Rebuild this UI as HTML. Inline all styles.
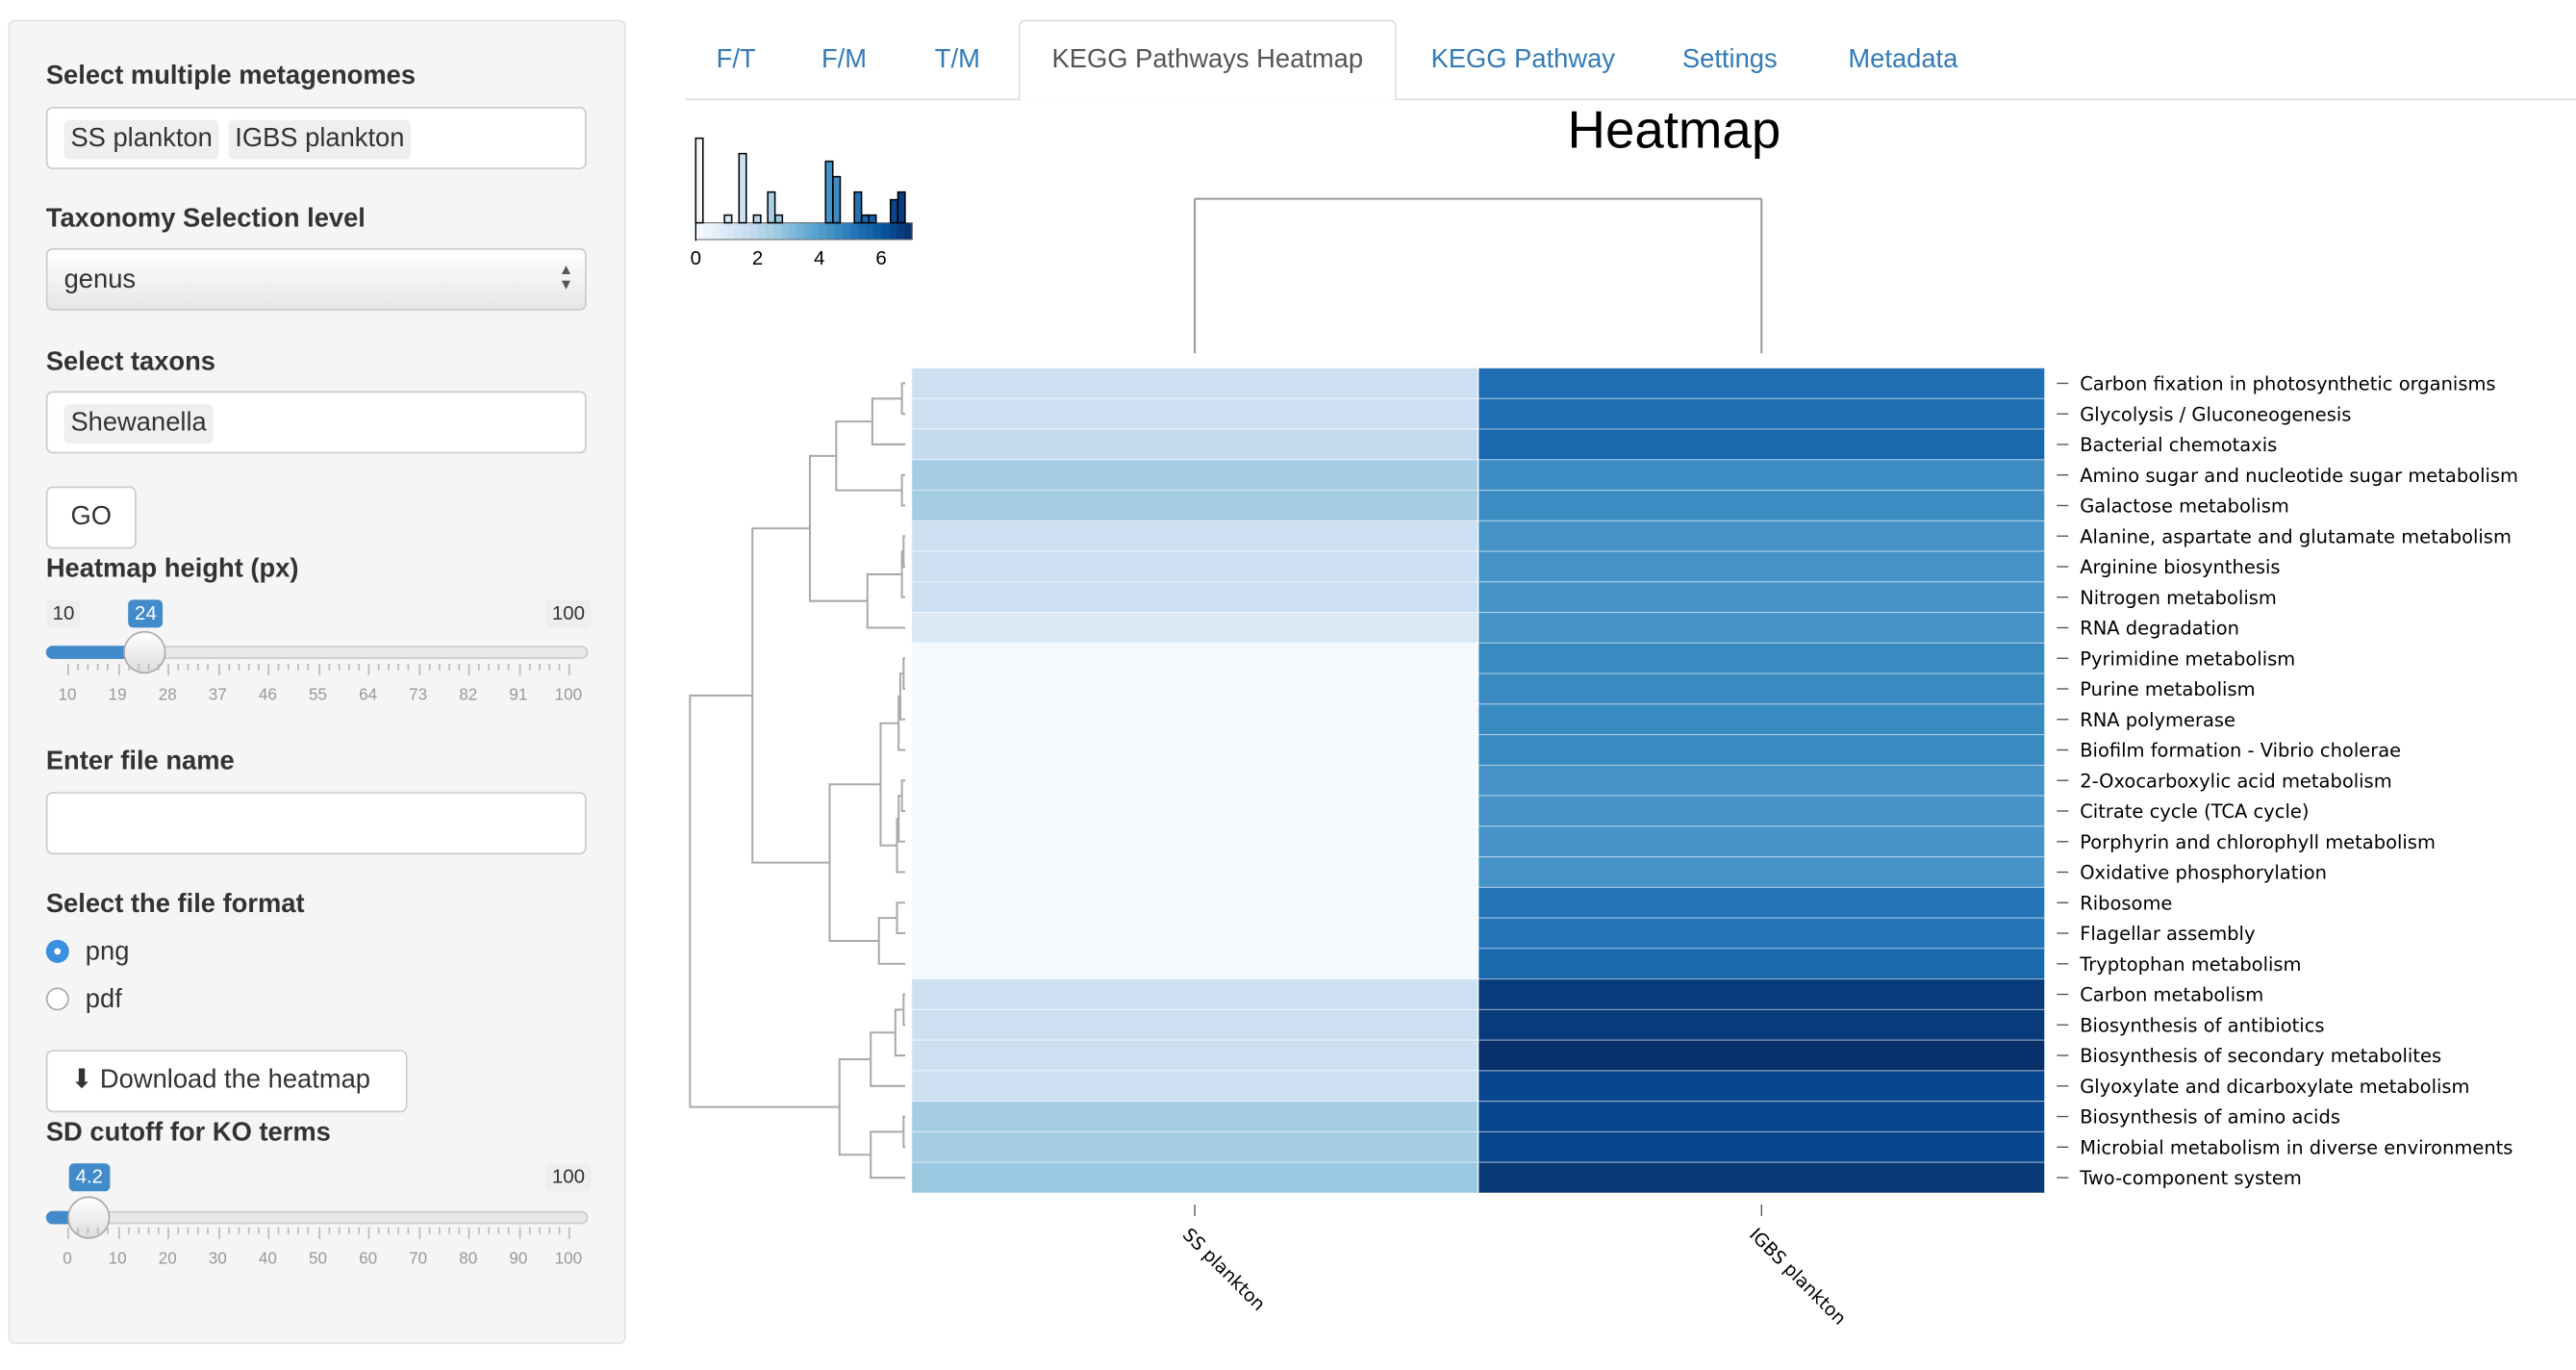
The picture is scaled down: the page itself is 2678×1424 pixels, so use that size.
<!DOCTYPE html>
<html><head><meta charset="utf-8">
<style>
html,body{margin:0;padding:0;width:2678px;height:1424px;overflow:hidden;background:#fff;}
#root{position:absolute;left:0;top:0;width:1568px;height:834px;transform:scale(1.70791);transform-origin:0 0;font-family:"Liberation Sans",sans-serif;color:#333;}
.abs{position:absolute;}
.lbl{position:absolute;left:28px;font-weight:bold;font-size:16px;color:#333;}
.inp{position:absolute;left:28px;width:329px;height:38px;border:1px solid #ccc;border-radius:4px;background:#fff;box-sizing:border-box;}
.chip{position:absolute;top:7px;height:24px;line-height:24px;background:#efefef;border-radius:3px;padding:0 4px;font-size:16px;color:#333;}
.tab{position:absolute;top:28px;font-size:16px;color:#337ab7;}
.sl-box{position:absolute;height:17px;line-height:17px;font-size:12px;padding:0 4px;border-radius:3px;background:#eee;color:#333;}
.tk{position:absolute;font-size:10px;color:#999;transform:translateX(-50%);}
</style></head><body>
<div id="root">
  <div class="abs" style="left:5px;top:12px;width:376px;height:806px;background:#f5f5f5;border:1px solid #e3e3e3;border-radius:4px;box-sizing:border-box;"></div>
  <div class="lbl" style="top:38px">Select multiple metagenomes</div>
  <div class="inp" style="top:65px">
    <span class="chip" style="left:10px">SS plankton</span><span class="chip" style="left:110px">IGBS plankton</span>
  </div>
  <div class="lbl" style="top:125px">Taxonomy Selection level</div>
  <div class="inp" style="top:151px;background:linear-gradient(#fff,#e6e6e6);">
    <span class="abs" style="left:10px;top:10px;font-size:16px">genus</span>
    <span class="abs" style="right:7px;top:8px;font-size:9px;line-height:9px;color:#555">▲<br>▼</span>
  </div>
  <div class="lbl" style="top:212px">Select taxons</div>
  <div class="inp" style="top:238px">
    <span class="chip" style="left:10px">Shewanella</span>
  </div>
  <div class="abs" style="left:28px;top:296px;width:55px;height:38px;border:1px solid #ccc;border-radius:4px;background:#fff;box-sizing:border-box;font-size:16px;text-align:center;line-height:36px;">GO</div>
  <div class="lbl" style="top:338px">Heatmap height (px)</div>
  <div>
    <span class="sl-box" style="left:28px;top:365px">10</span>
    <span class="sl-box" style="left:78px;top:365px;background:#428bca;color:#fff">24</span>
    <span class="sl-box" style="left:332px;top:365px">100</span>
    <div class="abs" style="left:28px;top:393px;width:330px;height:8px;border-radius:4px;background:#e8e8e8;border:1px solid #ccc;box-sizing:border-box"></div>
    <div class="abs" style="left:28px;top:393px;width:60px;height:8px;border-radius:4px 0 0 4px;background:#428bca"></div>
    <div class="abs" style="left:75px;top:384px;width:26px;height:26px;border-radius:50%;background:linear-gradient(#fff,#ddd);border:1px solid #aaa;box-sizing:border-box"></div>
    <div id="ticks1"></div>
  </div>
  <div class="lbl" style="top:455px">Enter file name</div>
  <div class="inp" style="top:482px"></div>
  <div class="lbl" style="top:542px">Select the file format</div>
  <div class="abs" style="left:28px;top:572px;width:14px;height:14px;border-radius:50%;border:1px solid #3b8fe0;background:#3b8fe0;box-sizing:border-box"><div style="margin:4px;width:4px;height:4px;border-radius:50%;background:#fff"></div></div>
  <span class="abs" style="left:52px;top:571px;font-size:16px">png</span>
  <div class="abs" style="left:28px;top:601px;width:14px;height:14px;border-radius:50%;border:1px solid #aaa;background:#fff;box-sizing:border-box"></div>
  <span class="abs" style="left:52px;top:600px;font-size:16px">pdf</span>
  <div class="abs" style="left:28px;top:639px;width:220px;height:38px;border:1px solid #ccc;border-radius:4px;background:#fff;box-sizing:border-box;font-size:16px;line-height:36px;padding-left:14px;">⬇ Download the heatmap</div>
  <div class="lbl" style="top:681px">SD cutoff for KO terms</div>
  <div>
    <span class="sl-box" style="left:42px;top:708px;background:#428bca;color:#fff">4.2</span>
    <span class="sl-box" style="left:332px;top:708px">100</span>
    <div class="abs" style="left:28px;top:737px;width:330px;height:8px;border-radius:4px;background:#e8e8e8;border:1px solid #ccc;box-sizing:border-box"></div>
    <div class="abs" style="left:28px;top:737px;width:26px;height:8px;border-radius:4px 0 0 4px;background:#428bca"></div>
    <div class="abs" style="left:41px;top:728px;width:26px;height:26px;border-radius:50%;background:linear-gradient(#fff,#ddd);border:1px solid #aaa;box-sizing:border-box"></div>
    <div id="ticks2"></div>
  </div>

  <div class="abs" style="left:417px;top:60px;width:1151px;height:1px;background:#ddd"></div>
  <span class="tab" style="left:436px">F/T</span>
  <span class="tab" style="left:500px">F/M</span>
  <span class="tab" style="left:569px">T/M</span>
  <div class="abs" style="left:620px;top:12px;width:230px;height:49px;border:1px solid #ddd;border-bottom:none;border-radius:4px 4px 0 0;background:#fff;box-sizing:border-box;font-size:16px;color:#555;text-align:center;line-height:47px;">KEGG Pathways Heatmap</div>
  <span class="tab" style="left:871px">KEGG Pathway</span>
  <span class="tab" style="left:1024px">Settings</span>
  <span class="tab" style="left:1125px">Metadata</span>

  <svg id="chart" class="abs" style="left:0;top:0" width="1568" height="834"></svg>
</div>
<script>
const categories=["Carbon fixation in photosynthetic organisms","Glycolysis / Gluconeogenesis","Bacterial chemotaxis","Amino sugar and nucleotide sugar metabolism","Galactose metabolism","Alanine, aspartate and glutamate metabolism","Arginine biosynthesis","Nitrogen metabolism","RNA degradation","Pyrimidine metabolism","Purine metabolism","RNA polymerase","Biofilm formation - Vibrio cholerae","2-Oxocarboxylic acid metabolism","Citrate cycle (TCA cycle)","Porphyrin and chlorophyll metabolism","Oxidative phosphorylation","Ribosome","Flagellar assembly","Tryptophan metabolism","Carbon metabolism","Biosynthesis of antibiotics","Biosynthesis of secondary metabolites","Glyoxylate and dicarboxylate metabolism","Biosynthesis of amino acids","Microbial metabolism in diverse environments","Two-component system"];
const samples=["SS plankton","IGBS plankton"];
const ssValues=[1.5,1.5,1.8,2.5,2.5,1.5,1.5,1.5,1.0,0.1,0.1,0.1,0.1,0.1,0.1,0.1,0.1,0.1,0.1,0.1,1.5,1.5,1.5,1.5,2.5,2.5,2.7];
const igbsValues=[5.3,5.3,5.5,4.5,4.5,4.3,4.3,4.3,4.3,4.6,4.6,4.6,4.6,4.3,4.3,4.3,4.3,5.2,5.2,5.5,6.7,6.7,7.0,6.4,6.4,6.4,6.8];
const keyTicks=[0,2,4,6];
const histBinStart=[0,0.93,1.4,1.87,2.33,2.57,4.2,4.44,5.13,5.37,5.6,6.3,6.54];
const histCounts=[11,1,9,1,4,1,8,6,4,1,1,3,4];
// dendrogram nodes: [left, right, mergeX]
const dendA=[[[[0,1,549],2,531],[3,4,549],509],[[[5,6,550],7,549],8,528],493];
const dendB1=[[[[9,10,550],11,548],12,547],[[[13,14,549],15,547],16,546],536];
const dendB2=[[17,18,546],19,535];
const dendB=[dendB1,dendB2,505];
const dendC=[[[[20,21,550],22,545],23,530],[[24,25,550],26,530],511];
const dendro=[[dendA,dendB,458],dendC,420];
</script>
<script>
const NS="http://www.w3.org/2000/svg";
const svg=document.getElementById('chart');
function mk(tag,attrs,parent){const e=document.createElementNS(NS,tag);for(const k in attrs)e.setAttribute(k,attrs[k]);(parent||svg).appendChild(e);return e;}
const blues=["#f7fbff","#deebf7","#c6dbef","#9ecae1","#6baed6","#4292c6","#2171b5","#08519c","#08306b"];
function hex(h){return [1,3,5].map(i=>parseInt(h.substr(i,2),16));}
function color(v){let t=Math.max(0,Math.min(1,v/7))*8;let i=Math.min(7,Math.floor(t));let f=t-i;const a=hex(blues[i]),b=hex(blues[i+1]);return "rgb("+a.map((c,k)=>Math.round(c+(b[k]-c)*f)).join(",")+")";}
const top0=224,rowH=(726-224)/categories.length;
const colX=[555,900],colW=344.5;
function yRow(i){return top0+rowH*i;}
const series=[ssValues,igbsValues];
series.forEach((vals,c)=>{vals.forEach((v,i)=>{
  const r=mk('rect',{x:colX[c],y:yRow(i),width:colW,height:rowH,fill:color(v),stroke:'rgba(255,255,255,0.45)','stroke-width':0.6});
  
  
});});
categories.forEach((c,i)=>{
  const y=yRow(i)+rowH/2;
  mk('line',{x1:1252,x2:1259,y1:y,y2:y,stroke:'#555','stroke-width':0.8});
  const t=mk('text',{x:1266,y:y+4.2,'font-size':11.4,fill:'#000','font-family':'DejaVu Sans, Liberation Sans, sans-serif'});
  t.textContent=c;
  
  
});
samples.forEach((s,c)=>{
  const x=colX[c]+colW/2;
  mk('line',{x1:x,x2:x,y1:733,y2:740,stroke:'#555','stroke-width':0.8});
  const t=mk('text',{x:x-8,y:752,'font-size':11,fill:'#000','font-family':'DejaVu Sans, Liberation Sans, sans-serif',transform:'rotate(45 '+(x-8)+' 752)'});
  t.textContent=s;
  
  
  mk('line',{x1:x,x2:x,y1:215,y2:121,stroke:'#999','stroke-width':1.2});
});
mk('line',{x1:colX[0]+colW/2,x2:colX[1]+colW/2,y1:121,y2:121,stroke:'#999','stroke-width':1.2});
function draw(n){
  if(typeof n==='number')return {x:551,y:yRow(n)+rowH/2};
  const a=draw(n[0]),b=draw(n[1]),h=n[2];
  mk('path',{d:`M${a.x},${a.y}H${h}V${b.y}H${b.x}`,stroke:'#aaa','stroke-width':1.2,fill:'none'});
  return {x:h,y:(a.y+b.y)/2};
}
draw(dendro);
const tt=mk('text',{x:1019,y:90,'font-size':32,'text-anchor':'middle',fill:'#000','font-family':'Liberation Sans, sans-serif'});
tt.textContent='Heatmap';


const kx0=423.5,kx1=555.2,kBase=135.6,unit=4.68;
function kx(v){return kx0+(kx1-kx0)*v/7;}
for(let i=0;i<28;i++){mk('rect',{x:kx(i*0.25),y:kBase,width:(kx1-kx0)/28+0.3,height:10.2,fill:color(i*0.25+0.125)});}
mk('rect',{x:kx0,y:kBase,width:kx1-kx0,height:10.2,fill:'none',stroke:'#666','stroke-width':0.6});
mk('line',{x1:kx0,x2:kx0,y1:kBase,y2:kBase+11,stroke:'#000','stroke-width':0.8});
histBinStart.forEach((b,i)=>{
  const h=histCounts[i]*unit;
  const r=mk('rect',{x:kx(b),y:kBase-h,width:kx(b+0.233)-kx(b),height:h,fill:color(b+0.1),stroke:'#000','stroke-width':0.9});
  
  
});
keyTicks.forEach(v=>{
  const t=mk('text',{x:kx(v),y:161,'font-size':12,'text-anchor':'middle',fill:'#000'});
  t.textContent=v;
  
  
});
function sliderTicks(id,labels,y){
  const c=document.getElementById(id);let h='';
  const x0=41,x1=346;
  for(let i=0;i<=50;i++){const x=x0+(x1-x0)*i/50;h+=`<div class="abs" style="left:${x}px;top:${y-14}px;width:1px;height:${i%5==0?7:4}px;background:#bbb"></div>`;}
  labels.forEach((l,i)=>{const x=x0+(x1-x0)*i/(labels.length-1);h+=`<span class="tk" style="left:${x}px;top:${y}px">${l}</span>`;});
  c.innerHTML=h;
}
sliderTicks('ticks1',[10,19,28,37,46,55,64,73,82,91,100],418);
sliderTicks('ticks2',[0,10,20,30,40,50,60,70,80,90,100],761);
</script>
</body></html>
